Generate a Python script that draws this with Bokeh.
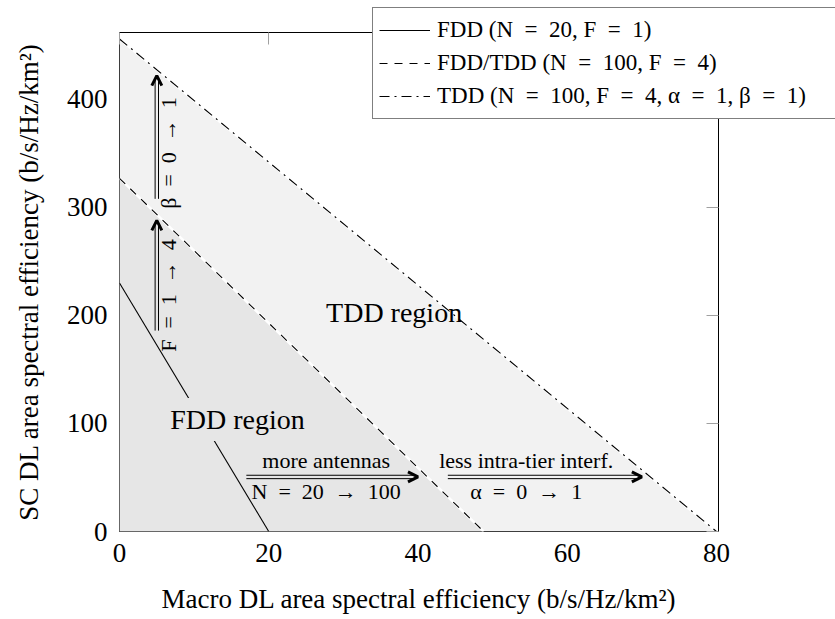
import math
from bokeh.plotting import figure
from bokeh.models import (Range1d, FixedTicker, LinearAxis, Legend, LegendItem,
                          Label, Arrow, OpenHead, ColumnDataSource)
from bokeh.embed import file_html
from bokeh.resources import INLINE

SP = "\u2002"  # wider (math-like) space

# ---------------- data ----------------
fdd_x = [0, 20]
fdd_y = [230, 0]
mix_x = [0, 48.8]
mix_y = [327, 0]
tdd_x = [0, 80]
tdd_y = [456, 0]

legend_labels = [f"FDD (N{SP}={SP}20, F{SP}={SP}1)",
                 f"FDD/TDD (N{SP}={SP}100, F{SP}={SP}4)",
                 f"TDD (N{SP}={SP}100, F{SP}={SP}4, α{SP}={SP}1, β{SP}={SP}1)"]
x_ticks = [0, 20, 40, 60, 80]
y_ticks = [0, 100, 200, 300, 400]
x_title = "Macro DL area spectral efficiency (b/s/Hz/km²)"
y_title = "SC DL area spectral efficiency (b/s/Hz/km²)"

region_text = ["FDD region", "TDD region"]
region_x = [15.8, 36.8]
region_y = [103.7, 202.8]

# horizontal arrows
h_x0 = [17, 44]
h_x1 = [40, 70]
h_y = [50.5, 50.5]
h_top_text = ["more antennas", "less intra-tier interf."]
h_bot_text = [f"N{SP}={SP}20{SP}→{SP}100", f"α{SP}={SP}0{SP}→{SP}1"]
h_text_x = [27.7, 54.5]
h_top_y = [65.7, 65.7]
h_bot_y = [37, 37]

# vertical arrows
v_x = [5, 5]
v_y0 = [186, 308]
v_y1 = [288, 422]
v_text = [f"F{SP}={SP}1{SP}→{SP}4", f"β{SP}={SP}0{SP}→{SP}1"]
v_text_x = [6.6, 6.5]
v_text_y = [218.5, 350.5]

# ---------------- figure ----------------
X_END, Y_END = 80.27, 462
FW, FH = 599, 499
px_x = FW / X_END
px_y = FH / Y_END

SERIF = "Liberation Serif"

p = figure(frame_width=FW, frame_height=FH,
           x_range=Range1d(0, X_END), y_range=Range1d(0, Y_END),
           output_backend="svg", toolbar_location=None,
           min_border_left=119, min_border_right=117,
           min_border_top=32, min_border_bottom=88)
p.background_fill_color = "white"
p.border_fill_color = "white"
p.outline_line_color = "black"
p.outline_line_width = 1
p.xgrid.visible = False
p.ygrid.visible = False

for ax, ticks in ((p.xaxis[0], x_ticks), (p.yaxis[0], y_ticks)):
    ax.ticker = FixedTicker(ticks=ticks)
    ax.axis_line_color = None
    ax.major_tick_in = 0
    ax.major_tick_out = 0
    ax.minor_tick_line_color = None
    ax.major_label_text_font = SERIF
    ax.major_label_text_font_size = "27px"
    ax.major_label_text_color = "black"
    ax.major_label_standoff = 12
    ax.axis_label_text_font = SERIF
    ax.axis_label_text_font_size = "27px"
    ax.axis_label_text_font_style = "normal"
    ax.axis_label_text_color = "black"

p.xaxis.axis_label = x_title
p.yaxis.axis_label = y_title
p.xaxis.axis_label_standoff = 19
p.yaxis.axis_label_standoff = 20

top_ax = LinearAxis(ticker=FixedTicker(ticks=x_ticks))
right_ax = LinearAxis(ticker=FixedTicker(ticks=y_ticks))
for ax in (top_ax, right_ax):
    ax.axis_line_color = None
    ax.major_tick_in = 12
    ax.major_tick_out = 0
    ax.major_tick_line_color = "#a0a0a0"
    ax.minor_tick_line_color = None
    ax.major_label_text_font_size = "8px"
    ax.major_label_text_color = None
    ax.major_label_standoff = 0
p.add_layout(top_ax, "above")
p.add_layout(right_ax, "right")

# ---------------- regions ----------------
p.patch(x=[tdd_x[0]] + tdd_x, y=[0] + tdd_y, fill_color="#f2f2f2", line_color=None)
p.patch(x=[mix_x[0]] + mix_x, y=[0] + mix_y, fill_color="#e6e6e6", line_color=None)

# white underlays along the region borders
p.line(mix_x, mix_y, line_color="white", line_width=2.5)
p.line(tdd_x, tdd_y, line_color="white", line_width=2.5)

LINE_STYLES = [dict(line_dash="solid"), dict(line_dash="8 7"), dict(line_dash="10 5 2 5")]
p.line(fdd_x, fdd_y, line_color="black", line_width=1.1, **LINE_STYLES[0])
p.line(mix_x, mix_y, line_color="black", line_width=1.1, **LINE_STYLES[1])
p.line(tdd_x, tdd_y, line_color="black", line_width=1.1, **LINE_STYLES[2])

# ---------------- arrows ----------------
gap = 1.7
h_src = ColumnDataSource(dict(
    x0=h_x0 + h_x0,
    x1=[x - 4 / px_x for x in h_x1] * 2,
    y0=[y + gap / px_y for y in h_y] + [y - gap / px_y for y in h_y]))
p.segment(x0="x0", y0="y0", x1="x1", y1="y0", source=h_src,
          line_color="black", line_width=1)
v_src = ColumnDataSource(dict(
    x0=[x - gap / px_x for x in v_x] + [x + gap / px_x for x in v_x],
    y0=v_y0 + v_y0,
    y1=[y - 4 / px_y for y in v_y1] * 2))
p.segment(x0="x0", y0="y0", x1="x0", y1="y1", source=v_src,
          line_color="black", line_width=1)

for x1, y in zip(h_x1, h_y):
    p.add_layout(Arrow(end=OpenHead(size=10, line_width=3, line_color="black"),
                       x_start=x1 - 1, y_start=y, x_end=x1, y_end=y,
                       line_alpha=0))
for x, y1 in zip(v_x, v_y1):
    p.add_layout(Arrow(end=OpenHead(size=10, line_width=3, line_color="black"),
                       x_start=x, y_start=y1 - 5, x_end=x, y_end=y1,
                       line_alpha=0))

# ---------------- texts ----------------
p.add_layout(Label(x=region_x[0], y=region_y[0], text=region_text[0],
                   text_font=SERIF, text_font_size="28px", text_align="center",
                   text_color="black",
                   text_baseline="alphabetic", background_fill_color="#e6e6e6",
                   padding=6))
p.add_layout(Label(x=region_x[1], y=region_y[1], text=region_text[1],
                   text_font=SERIF, text_font_size="28px", text_align="center",
                   text_color="black", text_baseline="alphabetic"))

for t, x, y in zip(h_top_text, h_text_x, h_top_y):
    p.add_layout(Label(x=x, y=y, text=t, text_font=SERIF, text_font_size="22px",
                       text_color="black",
                       text_align="center", text_baseline="alphabetic"))
for t, x, y in zip(h_bot_text, h_text_x, h_bot_y):
    p.add_layout(Label(x=x, y=y, text=t, text_font=SERIF, text_font_size="22px",
                       text_color="black",
                       text_align="center", text_baseline="alphabetic"))
for t, x, y in zip(v_text, v_text_x, v_text_y):
    p.add_layout(Label(x=x, y=y, text=t, text_font=SERIF, text_font_size="22px",
                       text_color="black",
                       text_align="center", text_baseline="middle",
                       angle=math.pi / 2))

# ---------------- legend (separate overlay root, so the box can leave the frame) ----------------
q = figure(width=463, height=112, output_backend="svg", toolbar_location=None,
           x_range=Range1d(0, 1), y_range=Range1d(0, 1),
           x_axis_type=None, y_axis_type=None, min_border=0,
           styles={"position": "absolute", "left": "372px", "top": "7px"})
q.outline_line_color = None
q.background_fill_alpha = 0
q.border_fill_alpha = 0
q.xgrid.visible = False
q.ygrid.visible = False
# legend proxies: lines kept outside the visible range of the legend figure
leg_r = [q.line([-5, -4], [-5, -5], line_color="black", line_width=1.1, **st)
         for st in LINE_STYLES]

legend = Legend(items=[LegendItem(label=lab, renderers=[r])
                       for lab, r in zip(legend_labels, leg_r)],
                location="top_left")
legend.label_text_font = SERIF
legend.label_text_font_size = "23px"
legend.label_text_color = "black"
legend.glyph_width = 51
legend.glyph_height = 32
legend.label_height = 32
legend.label_width = 400
legend.label_standoff = 7
legend.spacing = 1
legend.padding = 6
legend.margin = 0
legend.border_line_color = "black"
legend.border_line_width = 1
legend.background_fill_color = "white"
legend.background_fill_alpha = 1
q.add_layout(legend)

open("out.html", "w").write(file_html([p, q], INLINE))
